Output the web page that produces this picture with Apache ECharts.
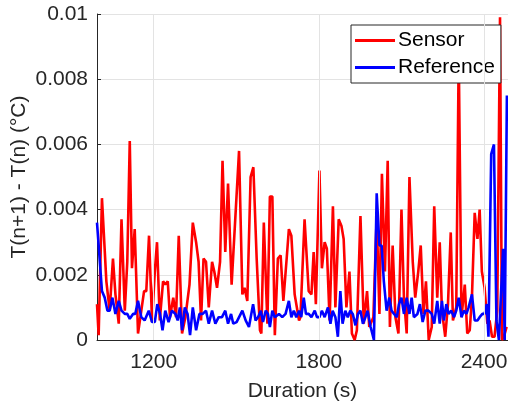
<!DOCTYPE html>
<html>
<head>
<meta charset="utf-8">
<script src="https://cdn.jsdelivr.net/npm/echarts@6/dist/echarts.min.js"></script>
<style>html,body{margin:0;padding:0;background:#fff;}#c{width:508px;height:405px;}</style>
</head>
<body>
<div id="c"></div>
<script>
// Time stamps (s) and values (°C)
const sensorTime = [994,1000,1012,1028,1040,1052,1061,1073,1083,1095,1104,1113,1121,1131,1143,1155,1165,1173,1183,1194,1204,1212,1222,1234,1242,1251,1259,1271,1281,1291,1303,1315,1330,1342,1354,1363,1372,1381,1390,1400,1412,1420,1430,1441,1450,1460,1470,1483,1510,1522,1530,1540,1552,1562,1574,1586,1591,1600,1613,1622,1631,1640,1651,1661,1671,1683,1691,1700,1712,1728,1733,1748,1763,1773,1781,1789,1802,1811,1821,1829,1839,1851,1860,1872,1882,1890,1900,1911,1920,1930,1938,1951,1963,1975,1983,1998,2010,2020,2029,2040,2050,2058,2068,2078,2089,2100,2109,2119,2129,2141,2150,2161,2170,2180,2189,2199,2210,2219,2230,2239,2247,2259,2269,2279,2287,2299,2308,2318,2330,2339,2348,2356,2366,2376,2384,2392,2402,2412,2420,2429,2438,2448,2458,2465,2472,2482];
const sensorValues = [0.0011,0.00015,0.00435,0.0018,0.0009,0.0025,0.0014,0.0005,0.0037,0.0009,0.0024,0.0061,0.0022,0.0034,0.0002,0.0009,0.0015,0.0015,0.0032,0.00055,0.0021,0.0030,0.0006,0.0018,0.0017,0.0018,0.0007,0.0013,0.0007,0.0032,0.0002,0.0007,0.0017,0.0036,0.0030,0.0024,0.0006,0.0025,0.0024,0.0010,0.0024,0.0021,0.0016,0.0024,0.0055,0.0027,0.0048,0.0017,0.0058,0.0014,0.0016,0.0012,0.0050,0.0053,0.0025,0.0003,0.0002,0.0036,0.0005,0.0044,0.0044,0.00015,0.0025,0.0026,0.0012,0.0025,0.0034,0.0032,0.0014,0.0006,0.0007,0.0037,0.0015,0.0014,0.0027,0.0011,0.0052,0.0022,0.0030,0.0028,0.0006,0.0041,0.0010,0.0037,0.0035,0.0031,0.0010,0.0021,0.0002,0.0,0.0003,0.0038,0.0005,0.0015,0.0004,0.0007,0.0038,0.0008,0.0051,0.0021,0.0055,0.0004,0.0029,0.0007,0.0002,0.0040,0.0013,0.0002,0.0050,0.0024,0.0013,0.0021,0.0029,0.0008,0.0018,0.0,0.0004,0.0041,0.0013,0.0030,0.0009,0.0001,0.0011,0.0033,0.0006,0.0010,0.0088,0.0007,0.0017,0.0002,0.0003,0.0013,0.0039,0.0031,0.0040,0.0021,0.0016,0.0005,0.0006,0.0001,0.0001,0.0009,0.0099,0.0,0.0001,0.0004];
const referenceTime = [994,1000,1012,1022,1032,1040,1050,1061,1073,1083,1095,1104,1113,1125,1133,1143,1155,1167,1182,1194,1204,1213,1223,1232,1242,1254,1266,1279,1287,1295,1303,1313,1323,1332,1342,1354,1366,1378,1390,1400,1412,1424,1436,1448,1460,1470,1481,1489,1501,1522,1534,1546,1561,1570,1579,1589,1597,1607,1615,1622,1631,1640,1655,1667,1679,1691,1700,1709,1718,1728,1736,1745,1753,1763,1773,1785,1793,1802,1811,1821,1833,1842,1850,1860,1869,1878,1886,1896,1905,1914,1923,1933,1942,1951,1960,1969,1977,1983,1988,2000,2010,2020,2028,2036,2046,2056,2064,2073,2083,2091,2100,2109,2119,2129,2137,2145,2158,2167,2177,2187,2198,2210,2219,2230,2239,2247,2254,2263,2271,2281,2291,2299,2308,2318,2327,2336,2344,2356,2366,2376,2384,2394,2402,2410,2416,2426,2436,2445,2454,2469,2475,2483];
const referenceValues = [0.0036,0.0029,0.0015,0.0013,0.0009,0.0009,0.0013,0.0008,0.0012,0.0009,0.0008,0.0008,0.00065,0.0008,0.0008,0.0012,0.0007,0.0006,0.0009,0.00055,0.00055,0.0011,0.0008,0.0003,0.0009,0.00055,0.0009,0.0008,0.0006,0.0010,0.0003,0.0010,0.0008,0.00015,0.0010,0.0003,0.0008,0.0008,0.0009,0.0005,0.0009,0.0005,0.0007,0.0007,0.0009,0.0005,0.0008,0.0005,0.00055,0.0009,0.0006,0.0004,0.0011,0.0006,0.0007,0.0009,0.00055,0.0009,0.0008,0.0004,0.0009,0.0007,0.0008,0.0007,0.0008,0.0012,0.0007,0.0009,0.0007,0.0009,0.0007,0.0013,0.0008,0.0008,0.0007,0.0009,0.0007,0.0007,0.0009,0.0007,0.0010,0.0005,0.0009,0.0007,0.0001,0.0015,0.0005,0.0009,0.0007,0.0009,0.0008,0.00045,0.0008,0.0009,0.0005,0.0007,0.0009,0.0009,0.0004,0.0,0.0045,0.0029,0.0029,0.0018,0.0009,0.0013,0.0009,0.0008,0.0007,0.0011,0.0013,0.0008,0.0013,0.0008,0.0013,0.0007,0.0008,0.0011,0.00055,0.0009,0.0009,0.0008,0.0005,0.0012,0.0005,0.0012,0.0006,0.0011,0.0008,0.0009,0.0007,0.0009,0.0013,0.0007,0.0009,0.0008,0.0010,0.0014,0.0006,0.0006,0.0007,0.0008,0.0008,0.0011,0.0001,0.0057,0.0060,0.0006,0.0,0.0028,0.0,0.0075];
const xTicks = [1200, 1800, 2400];
const yTicks = [0, 0.002, 0.004, 0.006, 0.008, 0.01];
const seriesNames = ['Sensor', 'Reference'];

const FONT = "'Liberation Sans', Arial, sans-serif";
const FS = 21;
const TXT = '#262626';
const GRID = '#e3e3e3';
const zip = (a, b) => a.map((v, i) => [v, b[i]]);

const chart = echarts.init(document.getElementById('c'), null, {renderer: 'canvas'});
chart.setOption({
  animation: false,
  backgroundColor: '#fff',
  grid: {left: 97, top: 14, bottom: 65, right: 0, containLabel: false, outerBoundsMode: 'none'},
  xAxis: {
    type: 'value', min: 994, max: 2487,
    name: 'Duration (s)', nameLocation: 'middle', nameGap: 41, nameMoveOverlap: false,
    nameTextStyle: {fontFamily: FONT, fontSize: FS, color: TXT},
    axisLine: {show: true, lineStyle: {color: TXT, width: 1}},
    axisTick: {show: true, inside: true, length: 4, customValues: xTicks, lineStyle: {color: TXT}},
    axisLabel: {show: true, customValues: xTicks, margin: 12, fontFamily: FONT, fontSize: FS, color: TXT,
      formatter: v => String(Math.round(v))},
    splitLine: {show: false}
  },
  yAxis: {
    type: 'value', min: yTicks[0], max: yTicks[yTicks.length - 1], interval: 0.002,
    name: 'T(n+1) - T(n) (°C)', nameLocation: 'middle', nameGap: 67, nameRotate: 90, nameMoveOverlap: false,
    nameTextStyle: {fontFamily: FONT, fontSize: FS, color: TXT},
    axisLine: {show: true, lineStyle: {color: TXT, width: 1}},
    axisTick: {show: true, inside: true, length: 4, lineStyle: {color: TXT}},
    axisLabel: {margin: 9, fontFamily: FONT, fontSize: FS, color: TXT,
      formatter: v => String(+v.toFixed(3))},
    splitLine: {show: true, lineStyle: {color: GRID, width: 1}}
  },
  legend: {
    data: seriesNames,
    orient: 'vertical', left: 351, top: 25,
    padding: [5, 6, 5, 4], itemGap: 6,
    itemWidth: 40, itemHeight: 3, icon: 'rect',
    backgroundColor: '#fff', borderColor: TXT, borderWidth: 1, borderRadius: 0,
    textStyle: {fontFamily: FONT, fontSize: FS, color: '#000', padding: [0, 0, 0, -2]}
  },
  series: [
    {
      name: '_grid', type: 'line', data: [], z: 1, silent: true,
      markLine: {silent: true, symbol: 'none', label: {show: false},
        lineStyle: {color: GRID, width: 1, type: 'solid'},
        data: xTicks.map(t => ({xAxis: t}))}
    },
    {
      name: seriesNames[0], type: 'line', data: zip(sensorTime, sensorValues),
      showSymbol: false, symbol: 'none', color: '#ff0000', z: 3,
      lineStyle: {color: '#ff0000', width: 2.6}
    },
    {
      name: seriesNames[1], type: 'line', data: zip(referenceTime, referenceValues),
      showSymbol: false, symbol: 'none', color: '#0000ff', z: 4,
      lineStyle: {color: '#0000ff', width: 2.6}
    }
  ]
});
</script>
</body>
</html>
